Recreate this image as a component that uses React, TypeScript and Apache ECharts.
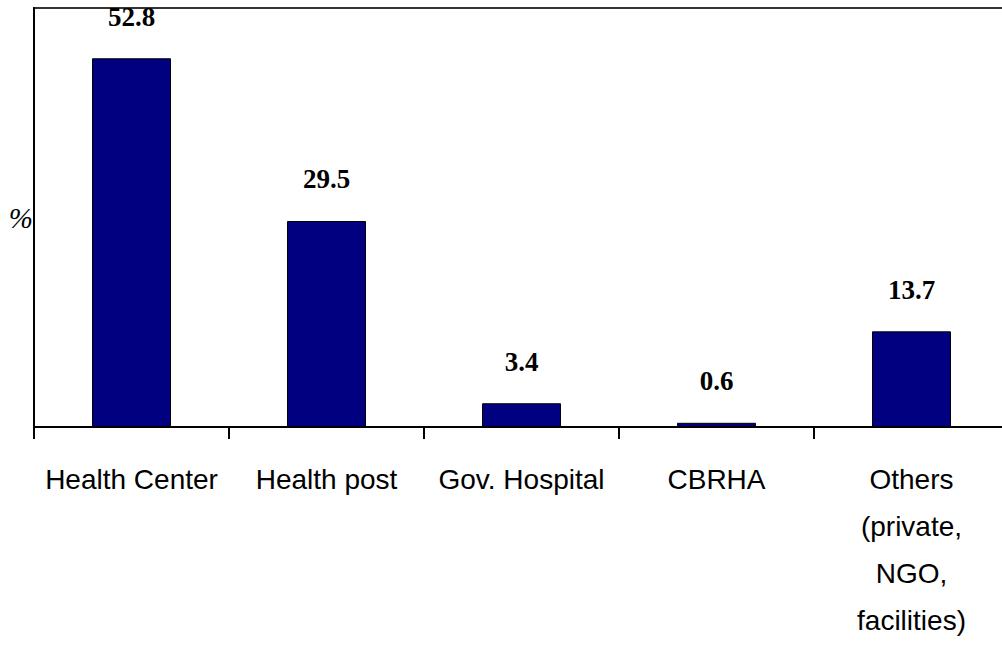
import React, { useEffect, useRef } from "react";
import * as echarts from "echarts";

const categories = [
  "Health Center",
  "Health post",
  "Gov. Hospital",
  "CBRHA",
  "Others\n(private,\nNGO,\nfacilities)",
];
const values = [52.8, 29.5, 3.4, 0.6, 13.7];
const yAxisName = "%";

export default function App() {
  const ref = useRef<HTMLDivElement>(null);
  useEffect(() => {
    document.body.style.margin = "0";
    document.body.style.overflow = "hidden";
    const chart = echarts.init(ref.current!, null, { renderer: "svg" });
    chart.setOption({
      animation: false,
      backgroundColor: "#ffffff",
      grid: {
        left: 34,
        top: 8,
        width: 975,
        height: 419,
        show: true,
        borderColor: "#333333",
        borderWidth: 2,
        backgroundColor: "transparent",
      },
      xAxis: {
        type: "category",
        data: categories,
        axisLine: { show: true, lineStyle: { color: "#000", width: 2 } },
        axisTick: { show: true, length: 12, lineStyle: { color: "#000", width: 2 } },
        axisLabel: {
          margin: 29,
          fontFamily: "Liberation Sans, Arial, sans-serif",
          fontSize: 28,
          lineHeight: 47,
          color: "#000",
          interval: 0,
        },
        splitLine: { show: false },
      },
      yAxis: {
        type: "value",
        min: 0,
        max: 60,
        name: yAxisName,
        nameLocation: "middle",
        nameRotate: 0,
        nameGap: 1,
        nameTextStyle: {
          fontFamily: "Liberation Serif, Times New Roman, serif",
          fontStyle: "italic",
          fontSize: 29,
          color: "#000",
          align: "right",
        },
        axisLine: { show: true, lineStyle: { color: "#000", width: 2 } },
        axisTick: { show: false },
        axisLabel: { show: false },
        splitLine: { show: false },
      },
      series: [
        {
          type: "bar",
          data: values,
          barWidth: "40.5%",
          itemStyle: { color: "#000080", borderColor: "#000", borderWidth: 1 },
          label: {
            show: true,
            position: "top",
            distance: 28,
            fontFamily: "Liberation Serif, Times New Roman, serif",
            fontWeight: "bold",
            fontSize: 27,
            color: "#000",
          },
        },
      ],
    });
    return () => chart.dispose();
  }, []);
  return (
    <div style={{ width: 1002, height: 647, overflow: "hidden" }}>
      <div ref={ref} style={{ width: 1012, height: 647 }} />
    </div>
  );
}
